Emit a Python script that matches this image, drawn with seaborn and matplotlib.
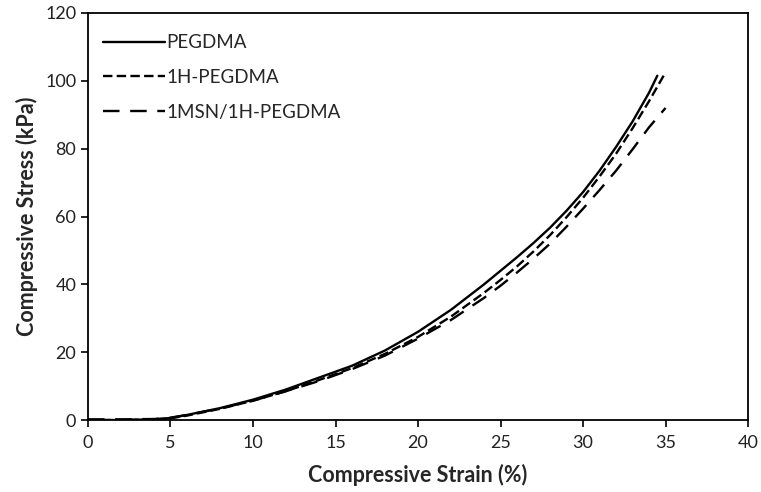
import numpy as np
import pandas as pd
import matplotlib
matplotlib.use("Agg")
import matplotlib.pyplot as plt
import seaborn as sns

# Values (strain %, stress kPa)
strain_pegdma = [0, 2, 4, 5, 6, 8, 10, 12, 14, 16, 18, 20, 22, 24, 25, 26, 27, 28, 29, 30, 31, 32, 33, 34, 34.5]
stress_pegdma = [0, 0, 0.2, 0.6, 1.5, 3.5, 6, 9, 12.5, 16, 20.5, 26, 32.5, 40, 44, 48, 52.2, 56.7, 61.7, 67.2, 73.5, 80.5, 88, 96.5, 101.5]

strain_1h = [0, 2, 4, 5, 6, 8, 10, 12, 14, 16, 18, 20, 22, 24, 25, 26, 27, 28, 29, 30, 31, 32, 33, 34, 35]
stress_1h = [0, 0, 0.2, 0.5, 1.3, 3.3, 5.7, 8.5, 11.8, 15.3, 19.5, 24.5, 30.5, 37.5, 41.3, 45.3, 49.7, 54.5, 59.8, 65.5, 71.8, 78.5, 86, 94, 102.5]

strain_msn = [0, 2, 4, 5, 6, 8, 10, 12, 14, 16, 18, 20, 22, 24, 25, 26, 27, 28, 29, 30, 31, 32, 33, 34, 35]
stress_msn = [0.2, 0.2, 0.3, 0.7, 1.5, 3.4, 5.7, 8.5, 11.5, 15, 19, 24, 29.5, 36, 39.6, 43.5, 47.6, 52, 57, 62.3, 67.8, 73.5, 79.8, 86.3, 92]

series_names = ["PEGDMA", "1H-PEGDMA", "1MSN/1H-PEGDMA"]

sns.set_style("white")
plt.rcParams["font.family"] = ["Lato", "DejaVu Sans"]

fig = plt.figure(figsize=(7.61, 4.92), dpi=100)
ax = fig.add_axes([0.1156, 0.1463, 0.983 - 0.1156, 0.9736 - 0.1463])

styles = ["-", (0, (4, 1.8)), (0, (7, 4.5))]
data = [(strain_pegdma, stress_pegdma), (strain_1h, stress_1h), (strain_msn, stress_msn)]

for (xs, ys), name, ls in zip(data, series_names, styles):
    df = pd.DataFrame({"strain": xs, "stress": ys})
    sns.lineplot(data=df, x="strain", y="stress", ax=ax, color="black",
                 linewidth=1.7, linestyle=ls, label=name, sort=False)

ax.set_xlim(0, 40)
ax.set_ylim(0, 120)
ax.set_xticks(np.arange(0, 41, 5))
ax.set_yticks(np.arange(0, 121, 20))
ax.tick_params(axis="both", direction="out", length=5, width=1.2,
               labelsize=13, color="black", labelcolor="#222222",
               bottom=True, left=True)
ax.tick_params(axis="x", pad=6)
for s in ax.spines.values():
    s.set_color("black")
    s.set_linewidth(1.3)

ax.set_xlabel("Compressive Strain (%)", fontsize=15.5, fontweight="bold", labelpad=9)
ax.set_ylabel("Compressive Stress (kPa)", fontsize=15.5, fontweight="bold", labelpad=5)

leg = ax.legend(loc="upper left", frameon=False, fontsize=13.5, handlelength=3.3,
                handletextpad=0.1, labelspacing=0.95, borderaxespad=0.4,
                bbox_to_anchor=(0.0, 0.985))

fig.savefig("out.png", dpi=100)
